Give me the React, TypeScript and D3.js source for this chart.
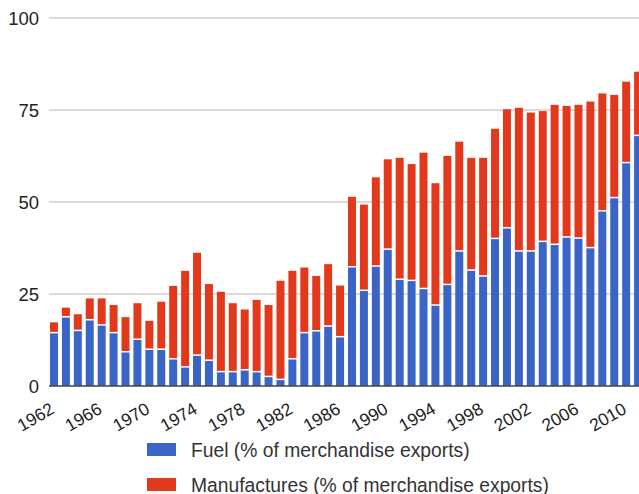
import React from "react";
import * as d3 from "d3";

const years: number[] = d3.range(1962, 2012);
const fuel: number[] = [
  14.3, 18.6, 14.9, 17.8, 16.4, 14.3, 9.1, 12.5, 9.8, 9.8,
  7.2, 5.0, 8.2, 6.8, 3.7, 3.7, 4.2, 3.7, 2.4, 1.6,
  7.2, 14.3, 14.8, 16.1, 13.2, 32.2, 25.8, 32.4, 37.0, 28.8,
  28.5, 26.3, 21.8, 27.4, 36.5, 31.3, 29.7, 39.9, 42.8, 36.5,
  36.5, 39.1, 38.3, 40.3, 40.0, 37.4, 47.4, 51.0, 60.5, 67.9,
];
const manufactures: number[] = [
  3.0, 2.7, 4.6, 6.0, 7.4, 7.7, 9.6, 10.0, 7.9, 13.1,
  20.0, 26.3, 28.0, 20.9, 21.9, 18.8, 16.6, 19.7, 19.6, 27.0,
  24.1, 17.9, 15.1, 17.0, 14.1, 19.2, 23.5, 24.3, 24.6, 33.2,
  31.8, 37.1, 33.3, 35.1, 29.9, 30.7, 32.3, 30.0, 32.4, 39.1,
  37.8, 35.6, 38.1, 35.8, 36.4, 39.9, 32.1, 28.1, 22.2, 17.5,
];
const yTicks: number[] = [0, 25, 50, 75, 100];
const xTickYears: number[] = years.filter((y) => (y - 1962) % 4 === 0);
const seriesNames: string[] = [
  "Fuel (% of merchandise exports)",
  "Manufactures (% of merchandise exports)",
];
const colors: string[] = ["#3a64c6", "#e2391c"];

const W = 639;
const H = 494;
const FONT = "'Liberation Sans', Arial, Helvetica, sans-serif";

export default function App() {
  const y = d3.scaleLinear().domain([0, 100]).range([386, 18]);
  const x = d3
    .scaleBand<number>()
    .domain(years)
    .range([48.03, 48.03 + 50 * 11.92])
    .paddingInner(0.33)
    .paddingOuter(0.165);
  const bw = x.bandwidth();

  return (
    <svg
      width={W}
      height={H}
      style={{ position: "absolute", left: 0, top: 0, background: "#fff" }}
      fontFamily={FONT}
    >
      {yTicks.map((t) =>
        t === 0 ? null : (
          <line
            key={"g" + t}
            x1={49}
            x2={W}
            y1={y(t)}
            y2={y(t)}
            stroke="#cfcfcf"
            strokeWidth={1.4}
          />
        )
      )}
      {yTicks.map((t) => (
        <text
          key={"yt" + t}
          x={39}
          y={y(t)}
          dy="0.36em"
          textAnchor="end"
          fontSize={18.5}
          fill="#222"
        >
          {t}
        </text>
      ))}
      {years.map((yr, i) => {
        const x0 = x(yr) as number;
        const f = fuel[i];
        const m = manufactures[i];
        const yf = y(f);
        const yt = y(f + m);
        return (
          <g key={"b" + yr}>
            <rect x={x0} y={yf} width={bw} height={y(0) - yf} fill={colors[0]} />
            <rect
              x={x0}
              y={yt}
              width={bw}
              height={Math.max(0, yf - yt - 1.5)}
              fill={colors[1]}
            />
          </g>
        );
      })}
      <line x1={49} x2={W} y1={y(0)} y2={y(0)} stroke="#444" strokeWidth={1.6} />
      {xTickYears.map((yr) => {
        const cx = (x(yr) as number) + bw / 2 + 1.5;
        return (
          <text
            key={"xt" + yr}
            transform={`translate(${cx},412.5) rotate(-30)`}
            textAnchor="end"
            fontSize={17.5}
            fill="#222"
          >
            {yr}
          </text>
        );
      })}
      {seriesNames.map((name, i) => (
        <g key={"l" + i} transform={`translate(147,${443 + i * 35})`}>
          <rect x={0} y={0} width={29} height={13} fill={colors[i]} />
          <text x={44} y={13.5} fontSize={19.3} fill="#333">
            {name}
          </text>
        </g>
      ))}
    </svg>
  );
}
